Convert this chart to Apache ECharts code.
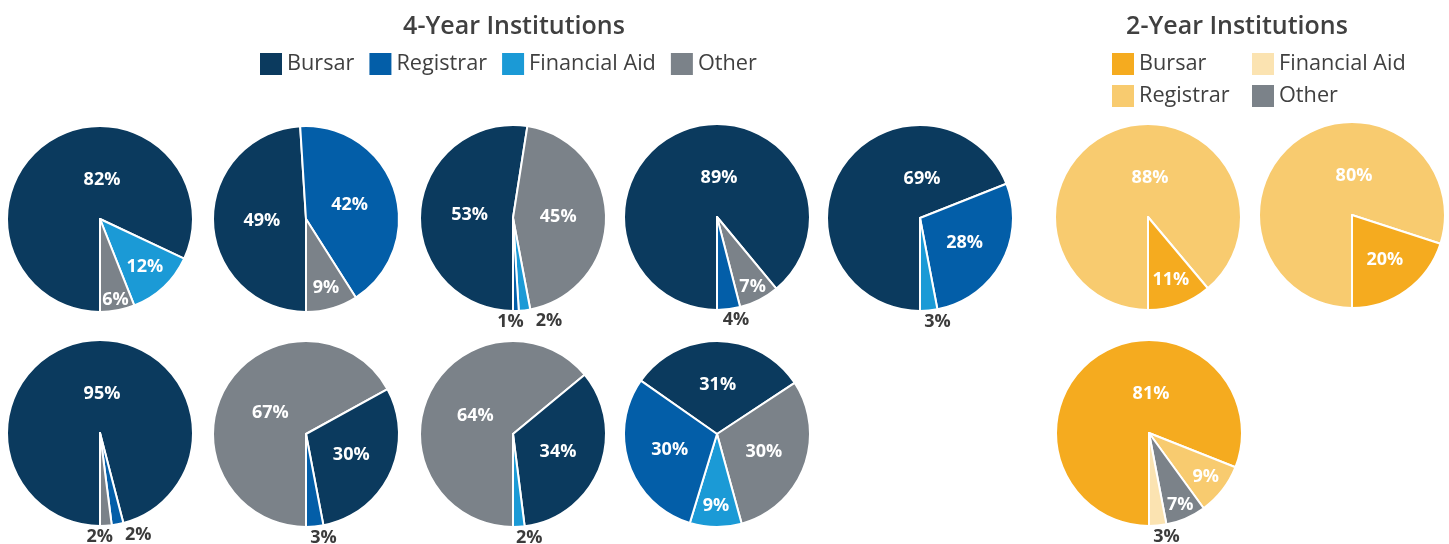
<!DOCTYPE html>
<html>
<head>
<meta charset="utf-8">
<script src="https://cdn.jsdelivr.net/npm/echarts@6/dist/echarts.min.js"></script>
<style>
html,body{margin:0;padding:0;background:#fff;}
#chart{width:1449px;height:544px;}
</style>
</head>
<body>
<div id="chart"></div>
<script>
// ---------- DATA ----------
const categories = ['Bursar', 'Registrar', 'Financial Aid', 'Other'];
// values per pie, in category order (0 = slice absent)
const fourYearPies = [
  [82, 0, 12, 6],
  [49, 42, 0, 9],
  [53, 1, 2, 45],
  [89, 4, 0, 7],
  [69, 28, 3, 0],
  [95, 2, 0, 2],
  [30, 3, 0, 67],
  [34, 0, 2, 64],
  [31, 30, 9, 30]
];
const twoYearPies = [
  [11, 88, 0, 0],
  [20, 80, 0, 0],
  [81, 9, 3, 7]
];
const titles = ['4-Year Institutions', '2-Year Institutions'];

// ---------- STYLE / LAYOUT ----------
const colors4 = ['#0b3a5e', '#035ea8', '#1b9ad6', '#7b8289'];
const colors2 = ['#f5ab1f', '#f8cb6f', '#fbe3b1', '#7b8289'];
const textColor = '#404040';
const R = 93;
const centers4 = [[100,219],[306,219],[513,218],[717,217],[920,218],[100,433],[306,434],[513,434],[717,434]];
const centers2 = [[1148,217],[1352,215],[1149,433]];
const customOrder4 = {8: {order: [0, 3, 2, 1], start: 145}};

const mctx = document.createElement('canvas').getContext('2d');
mctx.font = 'bold 18px "Open Sans"';
function textW(t) { return mctx.measureText(t).width; }

function labelSpots(vals, start, cx, cy) {
  const total = vals.reduce((a, b) => a + b, 0);
  const r = R - 1;
  let a = start;
  const out = [];
  vals.forEach(v => {
    const span = 360 * v / total;
    const mid = (a - span / 2) * Math.PI / 180;
    const frac = v / total;
    a -= span;
    const c = Math.cos(mid), s = Math.sin(mid);
    let o;
    if (v < 5) {
      o = {x: cx + 0.5 * r * c, y: cy - (r + 12) * s, align: 'left', out: true, w: textW(v + '%')};
    } else if (frac > 0.68) {
      o = {x: cx + 2, y: cy - 0.43 * r, align: 'center'};
    } else {
      const f = Math.min(0.92, Math.max(0.45, 0.255 + 0.158 / Math.sqrt(frac)));
      o = {x: cx + f * r * c, y: cy - f * r * s, align: 'center'};
    }
    out.push(o);
  });
  const outs = out.filter(o => o.out).sort((p, q) => p.x - q.x);
  for (let i = 1; i < outs.length; i++) {
    const p = outs[i - 1], q = outs[i];
    const need = p.x + p.w + 12 - q.x;
    if (need > 0) { p.x -= need / 2; q.x += need / 2; }
  }
  return out;
}

const labelTable = [];
function buildPie(values, colors, center, order, start) {
  let idx = order || categories.map((_, i) => i).sort((i, j) => values[j] - values[i] || i - j);
  idx = idx.filter(i => values[i] > 0);
  const vals = idx.map(i => values[i]);
  const spots = labelSpots(vals, start, center[0], center[1]);
  labelTable.push(spots);
  return {
    type: 'pie',
    center: center,
    radius: R,
    startAngle: start,
    clockwise: true,
    avoidLabelOverlap: false,
    animation: false,
    silent: true,
    itemStyle: {borderColor: '#fff', borderWidth: 2},
    label: {
      show: true, position: 'inside', formatter: '{c}%',
      fontSize: 18, fontWeight: 'bold', fontFamily: 'Open Sans', color: '#fff'
    },
    labelLine: {show: false},
    labelLayout: function (p) {
      const sp = labelTable[p.seriesIndex][p.dataIndex];
      return {x: sp.x, y: sp.y, align: sp.align, verticalAlign: 'middle'};
    },
    data: idx.map((i, k) => ({
      name: categories[i],
      value: values[i],
      itemStyle: {color: colors[i]},
      label: {color: spots[k].out ? '#3b3b3b' : '#fff'}
    }))
  };
}

const series = [];
fourYearPies.forEach((v, i) => {
  const c = customOrder4[i];
  series.push(buildPie(v, colors4, centers4[i], c ? c.order : null, c ? c.start : 270));
});
twoYearPies.forEach((v, i) => {
  series.push(buildPie(v, colors2, centers2[i], null, 270));
});

const legendText = {fontSize: 21.7, color: textColor, fontFamily: 'Open Sans'};
const legendBase = {
  icon: 'rect', itemWidth: 22, itemHeight: 22, padding: 0, selectedMode: false,
  itemStyle: {borderWidth: 0}, textStyle: legendText
};
const titleStyle = {fontSize: 25, fontWeight: 600, color: textColor, fontFamily: 'Open Sans'};

const option = {
  backgroundColor: '#fff',
  animation: false,
  title: [
    {text: titles[0], left: 514, top: 27, textAlign: 'center', textVerticalAlign: 'middle', padding: 0, textStyle: titleStyle},
    {text: titles[1], left: 1237, top: 27, textAlign: 'center', textVerticalAlign: 'middle', padding: 0, textStyle: titleStyle}
  ],
  legend: [
    Object.assign({}, legendBase, {
      orient: 'horizontal', left: 260, top: 53, itemGap: 15,
      data: categories.map((n, i) => ({name: n, itemStyle: {color: colors4[i]}}))
    }),
    Object.assign({}, legendBase, {
      orient: 'vertical', left: 1112, top: 53, itemGap: 10,
      data: [0, 1].map(i => ({name: categories[i], itemStyle: {color: colors2[i]}}))
    }),
    Object.assign({}, legendBase, {
      orient: 'vertical', left: 1252, top: 53, itemGap: 10,
      data: [2, 3].map(i => ({name: categories[i], itemStyle: {color: colors2[i]}}))
    })
  ],
  series: series
};

const chart = echarts.init(document.getElementById('chart'), null, {renderer: 'canvas'});
chart.setOption(option);
</script>
</body>
</html>
